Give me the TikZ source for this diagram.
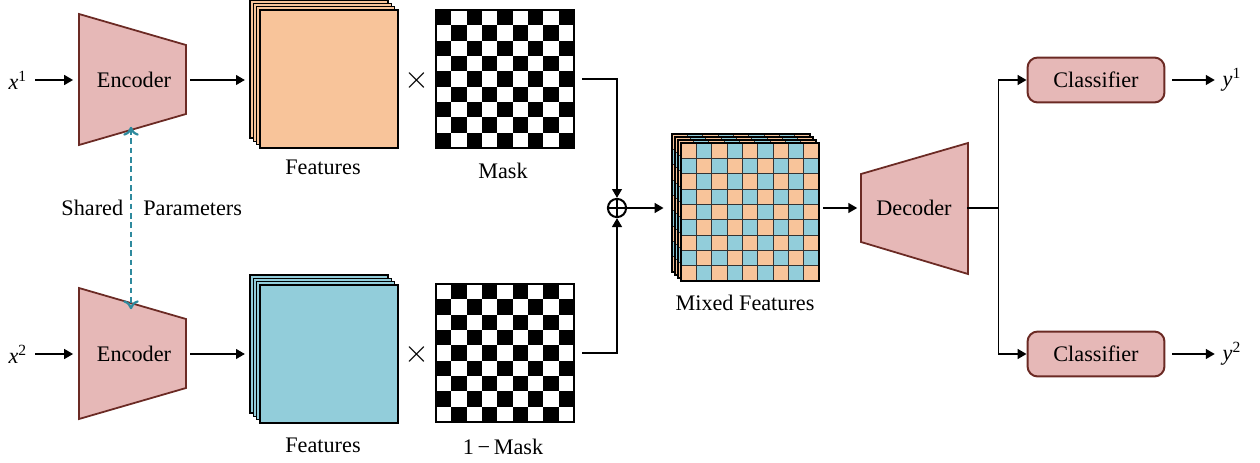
\documentclass[tikz,border=0pt]{standalone}
\usepackage{fontspec}
\setmainfont{Liberation Serif}
\usetikzlibrary{arrows.meta}
\definecolor{encfill}{HTML}{E6B8B7}
\definecolor{encdraw}{HTML}{6B2A24}
\definecolor{featorange}{HTML}{F8C49A}
\definecolor{featblue}{HTML}{92CDDA}
\definecolor{sharedcol}{HTML}{2E8A9E}
\tikzset{
  coder/.style={draw=encdraw,fill=encfill,line width=0.8pt,line join=miter},
  arr/.style={-{Triangle[length=4pt,width=4.4pt]},line width=0.8pt},
  sheet/.style={draw,line width=0.6pt,minimum size=62.1pt,inner sep=0pt},
  clsbox/.style={draw=encdraw,fill=encfill,line width=0.9pt,rounded corners=4.5pt,minimum width=61.6pt,minimum height=20.2pt},
  sharedarr/.style={{Computer Modern Rightarrow[length=4pt,width=7pt,sep=-1pt]}-{Computer Modern Rightarrow[length=4pt,width=7pt,sep=-1pt]},draw=sharedcol,line width=1pt,dash pattern=on 2.6pt off 1.6pt}
}
\begin{document}
\begin{tikzpicture}[x=0.45pt,y=-0.45pt,font=\fontsize{10}{12}\selectfont]
\useasboundingbox (0,0) rectangle (1260,463);
\foreach \y in {80,354}
  \draw[coder] (79,\y-66) -- (186,\y-35) -- (186,\y+34) -- (79,\y+65) -- cycle;
\draw[coder] (861,174) -- (968,143) -- (968,274) -- (861,242) -- cycle;
\node[minimum width=50.4pt,minimum height=20pt,inner sep=0pt] (enc1) at (134,80) {Encoder};
\node[minimum width=50.4pt,minimum height=20pt,inner sep=0pt] (enc2) at (134,354) {Encoder};
\node[minimum width=47.7pt,minimum height=20pt,inner sep=0pt] (dec) at (914,208) {Decoder};
\node (x1) at (18,80) {\textit{x}\textsuperscript{1}};
\node (x2) at (18,354) {\textit{x}\textsuperscript{2}};
\draw[arr,shorten >=2pt] (x1) -- (enc1);
\draw[arr,shorten >=2pt] (x2) -- (enc2);
\foreach \k in {0,...,3}{
  \node[sheet,fill=featorange] (fa\k) at (319+3.3*\k,69+3.3*\k) {};
  \node[sheet,fill=featblue] (fb\k) at (319+3.3*\k,344+3.3*\k) {};
}
\node (fta) at (323,167) {Features};
\node (ftb) at (323,445) {Features};
\draw[arr,shorten >=2pt] (enc1) -- (enc1 -| fa0.west);
\draw[arr,shorten >=2pt] (enc2) -- (enc2 -| fb0.west);
\node[font=\fontsize{14}{14}\selectfont] (ta) at (417,80) {$\times$};
\node[font=\fontsize{14}{14}\selectfont] (tb) at (417,354) {$\times$};
\foreach \i in {0,...,8}
  \foreach \j in {0,...,8}{
    \pgfmathtruncatemacro\pp{mod(\i+\j,2)}
    \ifnum\pp=0
      \fill (436+\i*15.33,10+\j*15.33) rectangle ++(15.33,15.33);
    \else
      \fill (436+\i*15.33,284+\j*15.33) rectangle ++(15.33,15.33);
    \fi
  }
\node[sheet] (ma) at (505,79) {};
\node[sheet] (mb) at (505,353) {};
\node (mka) at (503,171) {Mask};
\node (mkb) at (503,447) {1\,−\,Mask};
\node[circle,draw,line width=0.9pt,minimum size=8.2pt,inner sep=0pt,path picture={\draw[line width=0.7pt] (path picture bounding box.north) -- (path picture bounding box.south) (path picture bounding box.west) -- (path picture bounding box.east);}] (plus) at (617,208) {};
\draw[arr,shorten <=3.5pt] (ma.east) -| (plus.north);
\draw[arr,shorten <=3.5pt] (mb.east) -| (plus.south);
\foreach \k in {0,...,3}{
  \foreach \i in {0,...,8}
    \foreach \j in {0,...,8}{
      \pgfmathtruncatemacro\pp{mod(\i+\j,2)}
      \ifnum\pp=0 \def\cc{featorange}\else\def\cc{featblue}\fi
      \filldraw[fill=\cc,draw=black!80,line width=0.4pt] (672+3*\k+\i*15.33,134+3*\k+\j*15.33) rectangle ++(15.33,15.33);
    }
  \node[sheet] (mx\k) at (741+3*\k,203+3*\k) {};
}
\node (mxl) at (745,303) {Mixed Features};
\draw[arr,shorten >=3.5pt] (plus) -- (plus -| mx0.west);
\draw[arr,shorten <=1.5pt,shorten >=1.5pt] (mx3.east |- dec.west) -- (dec.west);
\node[clsbox] (cls1) at (1096,80) {Classifier};
\node[clsbox] (cls2) at (1096,354) {Classifier};
\draw[line width=0.8pt] (dec.east) -- ++(31,0) coordinate (br);
\draw[arr] (br) |- (cls1);
\draw[arr] (br) |- (cls2);
\node (y1) at (1232,80) {\textit{y}\textsuperscript{1}};
\node (y2) at (1232,354) {\textit{y}\textsuperscript{2}};
\draw[arr,shorten <=3pt] (cls1) -- (y1);
\draw[arr,shorten <=3pt] (cls2) -- (y2);
\coordinate (sp1) at (131,129);
\coordinate (sp2) at (131,307);
\draw[sharedarr] (sp1) -- (sp2);
\node[left] (shd) at (131,208) {Shared};
\node[right,xshift=2pt] (prm) at (131,208) {Parameters};
\end{tikzpicture}
\end{document}
